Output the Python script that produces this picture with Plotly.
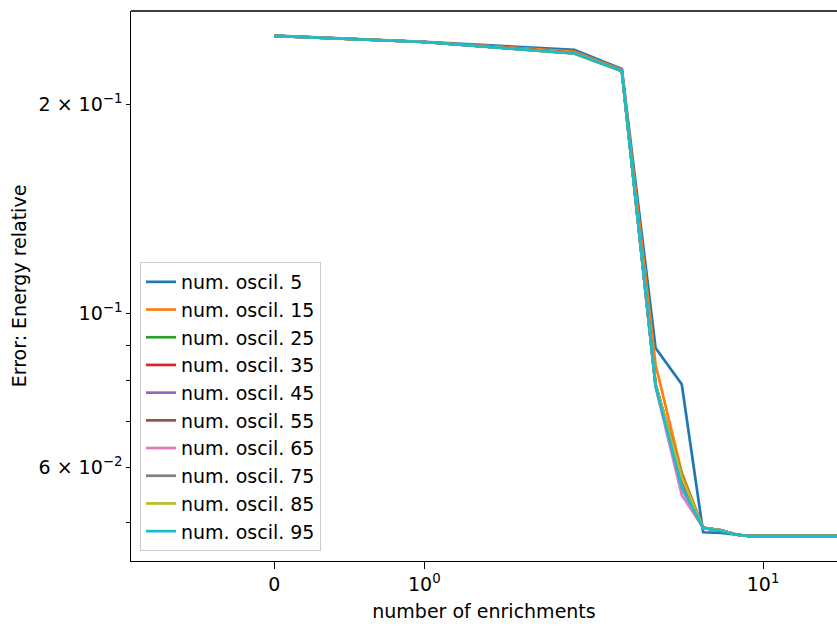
import numpy as np
import plotly.graph_objects as go

# ---------------- data ----------------
n_enrich = [0, 1, 2, 3, 4, 5, 6, 7, 8, 9, 10, 12, 14, 16, 18, 20]
labels = ["num. oscil. 5", "num. oscil. 15", "num. oscil. 25", "num. oscil. 35",
          "num. oscil. 45", "num. oscil. 55", "num. oscil. 65", "num. oscil. 75",
          "num. oscil. 85", "num. oscil. 95"]
tail = [0.0480, 0.0478, 0.0478, 0.0478, 0.0478, 0.0478, 0.0478, 0.0478]
err_5 = [0.2515, 0.2465, 0.2400, 0.2252, 0.0892, 0.0791, 0.0484, 0.0483] + tail
err_15 = [0.2513, 0.2463, 0.2386, 0.2245, 0.0844, 0.0590, 0.0491, 0.0487] + tail
err_25 = [0.2513, 0.2463, 0.2375, 0.2238, 0.0790, 0.0580, 0.0491, 0.0487] + tail
err_35 = [0.2513, 0.2463, 0.2375, 0.2238, 0.0789, 0.0575, 0.0491, 0.0487] + tail
err_45 = [0.2513, 0.2463, 0.2373, 0.2238, 0.0786, 0.0560, 0.0491, 0.0487] + tail
err_55 = [0.2513, 0.2463, 0.2373, 0.2238, 0.0790, 0.0585, 0.0491, 0.0487] + tail
err_65 = [0.2513, 0.2463, 0.2372, 0.2237, 0.0785, 0.0548, 0.0491, 0.0487] + tail
err_75 = [0.2513, 0.2463, 0.2372, 0.2237, 0.0789, 0.0578, 0.0491, 0.0487] + tail
err_85 = [0.2513, 0.2463, 0.2372, 0.2237, 0.0790, 0.0582, 0.0491, 0.0487] + tail
err_95 = [0.2513, 0.2463, 0.2371, 0.2237, 0.0787, 0.0562, 0.0491, 0.0486] + tail
series = [err_5, err_15, err_25, err_35, err_45, err_55, err_65, err_75, err_85, err_95]

x_ticks = [0, 1, 10]
x_ticktext = ["0", "10<sup>0</sup>", "10<sup>1</sup>"]
y_ticks = [0.06, 0.1, 0.2]
y_ticktext = ["6 × 10<sup>−2</sup>", "10<sup>−1</sup>", "2 × 10<sup>−1</sup>"]
y_minor = [0.05, 0.07, 0.08, 0.09]

colors = ["#1f77b4", "#ff7f0e", "#2ca02c", "#d62728", "#9467bd",
          "#8c564b", "#e377c2", "#7f7f7f", "#bcbd22", "#17becf"]

# symlog transform (matplotlib-style, linthresh=2, linscale=1)
LINTHRESH = 2.0
LINSCALE_ADJ = 1.0 / (1.0 - 1.0 / 10.0)


def symlog(v):
    v = np.asarray(v, dtype=float)
    a = np.abs(v)
    out = np.where(a <= LINTHRESH, v * LINSCALE_ADJ,
                   np.sign(v) * LINTHRESH * (LINSCALE_ADJ + np.log10(np.maximum(a, 1e-12) / LINTHRESH)))
    return out


FONT = "DejaVu Sans"
fig = go.Figure()
for i, (lab, ys) in enumerate(zip(labels, series)):
    fig.add_trace(go.Scatter(
        x=symlog(n_enrich), y=ys, mode="lines", name=lab,
        line=dict(color=colors[i], width=2.7)))

W, H = 837, 627
ml, mr, mt, mb = 131, 0, 11, 66
pw = W - ml - mr
ph = H - mt - mb

fig.update_layout(
    width=W, height=H,
    margin=dict(l=ml, r=mr, t=mt, b=mb, pad=0),
    paper_bgcolor="white", plot_bgcolor="white",
    font=dict(family=FONT, size=19, color="black"),
    showlegend=True,
    legend=dict(x=9 / pw, y=10 / ph, xanchor="left", yanchor="bottom",
                bgcolor="rgba(255,255,255,0.8)", bordercolor="#cccccc", borderwidth=1,
                font=dict(family=FONT, size=19), entrywidth=150, entrywidthmode="pixels"),
    xaxis=dict(range=[-1.0615, 4.168], showgrid=False, zeroline=False,
               showline=True, linecolor="black", linewidth=1.4,
               tickmode="array", tickvals=list(symlog(x_ticks)), ticktext=x_ticktext,
               ticks="outside", ticklen=6.4, tickwidth=1.4, tickcolor="black",
               tickfont=dict(size=19),
               title=dict(text="number of enrichments", font=dict(size=19), standoff=10)),
    yaxis=dict(type="log", range=[np.log10(0.0440), np.log10(0.273)], showgrid=False,
               zeroline=False, showline=True, linecolor="black", linewidth=1.4,
               tickmode="array", tickvals=y_ticks, ticktext=y_ticktext,
               ticks="outside", ticklen=3.6, tickwidth=1.4, tickcolor="black",
               tickfont=dict(size=19),
               minor=dict(tickmode="array", tickvals=y_minor, ticks="outside",
                          ticklen=3.6, tickwidth=1.4, tickcolor="black", showgrid=False),
               title=dict(text="Error: Energy relative", font=dict(size=19), standoff=6)),
)
# top spine
fig.add_shape(type="line", xref="paper", yref="paper", x0=0, x1=1, y0=1, y1=1,
              line=dict(color="black", width=1.4))
# longer major tick at 10^-1
fig.add_shape(type="line", xref="paper", yref="y", x0=-6.4 / pw, x1=0,
              y0=np.log10(0.1), y1=np.log10(0.1), line=dict(color="black", width=1.4))

fig.write_html("out.html")
